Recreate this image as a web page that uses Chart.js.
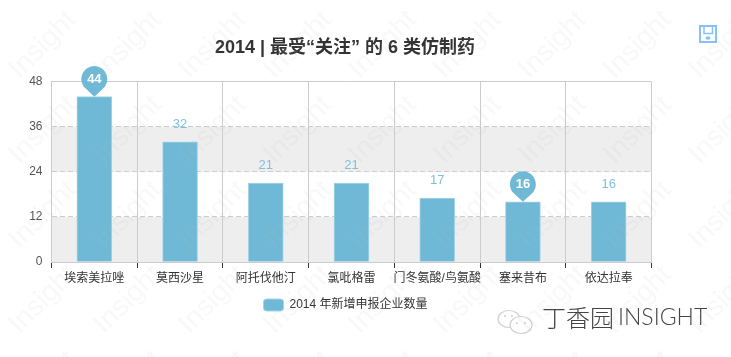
<!DOCTYPE html>
<html>
<head>
<meta charset="utf-8">
<script src="https://cdn.jsdelivr.net/npm/chart.js@4"></script>
<style>
    html, body { margin: 0; background: #fff; }
    canvas { display: block; }
</style>
</head>
<body>
<canvas id="chart" width="731" height="357"></canvas>
<script>
const categories = ['埃索美拉唑', '莫西沙星', '阿托伐他汀', '氯吡格雷', '门冬氨酸/鸟氨酸', '塞来昔布', '依达拉奉'];
const counts = [44, 32, 21, 21, 17, 16, 16];
const pinned = [0, 5];
const seriesName = '2014 年新增申报企业数量';
const titleText = '2014 | 最受“关注” 的 6 类仿制药';
const bands = [[0, 12], [24, 36]];

const FONT = '"Liberation Sans", "Noto Sans CJK SC", sans-serif';
const BLUE = '#6fb9d6';

// shaded bands go under the grid, everything else on top of the bars
const decorations = {
    id: 'decorations',
    beforeDraw(chart) {
        const { ctx, chartArea, scales } = chart;
        ctx.save();
        ctx.fillStyle = '#eeeeee';
        bands.forEach(([from, to]) => {
            const top = scales.y.getPixelForValue(to);
            ctx.fillRect(chartArea.left, top, chartArea.width, scales.y.getPixelForValue(from) - top);
        });
        ctx.restore();
    },
    afterLayout(chart) {
        // title and legend sit a little left of the plot centre
        chart.legend.left -= 6;
        chart.legend.right -= 6;
        chart.titleBlock.left -= 6.5;
        chart.titleBlock.right -= 6.5;
    },
    afterDatasetsDraw(chart) {
        const { ctx } = chart;
        const bars = chart.getDatasetMeta(0).data;
        ctx.save();
        ctx.textAlign = 'center';
        ctx.textBaseline = 'middle';
        bars.forEach((bar, i) => {
            if (pinned.includes(i)) {
                const cy = bar.y - 17.5;
                ctx.fillStyle = BLUE;
                ctx.beginPath();
                ctx.arc(bar.x, cy, 13, Math.PI * 0.8, Math.PI * 0.2);
                ctx.lineTo(bar.x, bar.y);
                ctx.closePath();
                ctx.fill();
                ctx.fillStyle = '#fff';
                ctx.font = 'bold 13px ' + FONT;
                ctx.fillText(counts[i], bar.x, cy);
            } else {
                ctx.fillStyle = '#7fc1dc';
                ctx.font = '13px ' + FONT;
                ctx.fillText(counts[i], bar.x, bar.y - 17.5);
            }
        });
        ctx.restore();
    },
    afterDraw(chart) {
        const { ctx } = chart;
        ctx.save();

        // save icon
        ctx.strokeStyle = '#85c1ff';
        ctx.lineWidth = 2;
        ctx.strokeRect(700, 26, 16, 16);
        ctx.lineWidth = 1.5;
        ctx.strokeRect(704, 26, 8.5, 7.5);
        ctx.fillStyle = '#85c1ff';
        ctx.beginPath();
        ctx.ellipse(708, 38, 2.5, 1.7, 0, 0, Math.PI * 2);
        ctx.fill();

        // wechat logo + brand
        ctx.strokeStyle = '#cfcfcf';
        ctx.lineWidth = 1.2;
        ctx.beginPath();
        ctx.ellipse(509, 319, 11, 8.5, 0, 0, Math.PI * 2);
        ctx.stroke();
        ctx.fillStyle = '#fff';
        ctx.beginPath();
        ctx.ellipse(521, 325, 11, 8.5, 0, 0, Math.PI * 2);
        ctx.fill();
        ctx.stroke();
        ctx.fillStyle = '#cfcfcf';
        [[505, 316], [512, 316], [517, 323], [525, 323]].forEach(([x, y]) => {
            ctx.beginPath();
            ctx.arc(x, y, 1, 0, Math.PI * 2);
            ctx.fill();
        });
        ctx.fillStyle = '#444';
        ctx.font = '300 24px "Noto Sans CJK SC", sans-serif';
        ctx.textAlign = 'left';
        ctx.textBaseline = 'middle';
        ctx.fillText('丁香园', 542, 318);
        ctx.font = '300 23px Lato, sans-serif';
        ctx.fillText('INSIGHT', 618, 318);

        // tiled watermark
        ctx.fillStyle = 'rgba(190, 190, 190, 0.11)';
        ctx.font = '28px "Liberation Sans", sans-serif';
        ctx.textAlign = 'center';
        for (let row = 0; row < 5; row++) {
            for (let col = 0; col < 10; col++) {
                ctx.save();
                ctx.translate(43 + col * 85, 45 + row * 85);
                ctx.rotate(-Math.PI / 4);
                ctx.fillText('Insight', 0, 0);
                ctx.restore();
            }
        }
        ctx.restore();
    }
};

new Chart(document.getElementById('chart'), {
    type: 'bar',
    data: {
        labels: categories,
        datasets: [{
            label: seriesName,
            data: counts,
            backgroundColor: BLUE,
            borderColor: '#a6d5e7',
            borderWidth: 1,
            barThickness: 35
        }]
    },
    options: {
        responsive: false,
        animation: false,
        layout: { padding: { left: 0, right: 79.5, top: 0, bottom: 36 } },
        plugins: {
            tooltip: { enabled: false },
            title: {
                display: true,
                text: titleText,
                fullSize: false,
                color: '#333',
                font: { family: FONT, size: 18, weight: 'bold' },
                padding: { top: 37, bottom: 23 }
            },
            legend: {
                position: 'bottom',
                fullSize: false,
                labels: {
                    color: '#333',
                    font: { family: FONT, size: 12 },
                    boxWidth: 20,
                    boxHeight: 12,
                    padding: 5,
                    useBorderRadius: true,
                    borderRadius: 3
                }
            }
        },
        scales: {
            x: {
                afterFit(scale) { scale.height = 32; },
                grid: { color: '#cccccc', tickColor: '#333', tickLength: 6 },
                border: { color: '#cccccc' },
                ticks: {
                    color: '#333',
                    font: { family: FONT, size: 12 },
                    autoSkip: false,
                    maxRotation: 0,
                    padding: 3
                }
            },
            y: {
                min: 0,
                max: 48,
                afterFit(scale) { scale.width = 51.5; },
                grid: { color: '#cccccc', drawTicks: false },
                border: {
                    color: '#cccccc',
                    dash: ctx => (ctx.tick && ctx.tick.value > 0 && ctx.tick.value < 48) ? [5, 3] : []
                },
                ticks: {
                    stepSize: 12,
                    color: '#555',
                    font: { family: FONT, size: 12 },
                    padding: 9
                }
            }
        }
    },
    plugins: [decorations]
});
</script>
</body>
</html>
